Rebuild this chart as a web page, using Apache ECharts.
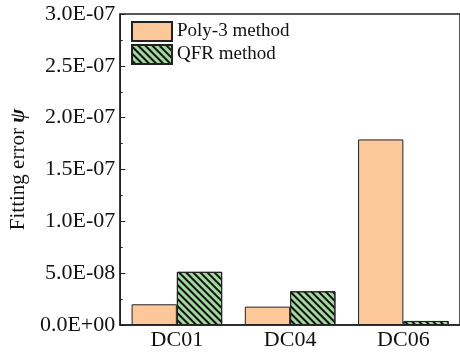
<!DOCTYPE html>
<html>
<head>
<meta charset="utf-8">
<script src="https://cdn.jsdelivr.net/npm/echarts@6/dist/echarts.min.js"></script>
<style>
  html, body { margin: 0; padding: 0; background: #fff; }
  #chart { width: 460px; height: 354px; }
</style>
</head>
<body>
<div id="chart"></div>
<script>
// Fitting error of the two methods for each data case
const categories = ['DC01', 'DC04', 'DC06'];
const poly3Values = [2.0e-8, 1.77e-8, 1.79e-7];
const qfrValues = [5.13e-8, 3.25e-8, 3.9e-9];
const seriesNames = ['Poly-3 method', 'QFR method'];

const SERIF = "'Liberation Serif', 'Times New Roman', serif";

// Scientific label like 1.5E-07 / 0.0E+00
function sciLabel(v) {
  if (Math.abs(v) < 1e-20) return '0.0E+00';
  const s = v.toExponential(1); // e.g. "1.5e-7"
  const parts = s.split('e');
  const exp = parseInt(parts[1], 10);
  const sign = exp < 0 ? '-' : '+';
  const e = String(Math.abs(exp)).padStart(2, '0');
  return parts[0] + 'E' + sign + e;
}

const chart = echarts.init(document.getElementById('chart'));
chart.setOption({
  animation: false,
  textStyle: { fontFamily: SERIF },
  grid: {
    left: 115, right: -2, top: 14, bottom: 29,
    show: true, borderColor: '#222', borderWidth: 1.5,
    backgroundColor: 'transparent'
  },
  legend: {
    left: 131, top: 21, orient: 'vertical', padding: 0,
    icon: 'rect',
    itemWidth: 40, itemHeight: 19, itemGap: 2,
    textStyle: { fontFamily: SERIF, fontSize: 19, color: '#111' },
    data: seriesNames
  },
  xAxis: {
    type: 'category',
    data: categories,
    axisLine: { lineStyle: { color: '#222', width: 1.5 } },
    axisTick: { show: false },
    axisLabel: { fontFamily: SERIF, fontSize: 22, color: '#111', margin: 4 }
  },
  yAxis: {
    type: 'value',
    min: 0, max: 3e-7, interval: 5e-8,
    name: 'Fitting error {psi|ψ}',
    nameLocation: 'middle',
    nameGap: 71,
    nameRotate: 90,
    nameTextStyle: {
      fontFamily: SERIF, fontSize: 21, color: '#111',
      rich: { psi: { fontFamily: SERIF, fontSize: 21, fontWeight: 'bold', fontStyle: 'italic', color: '#111' } }
    },
    axisLine: { show: true, lineStyle: { color: '#222', width: 1.5 } },
    axisTick: { show: true, inside: true, length: 5, lineStyle: { color: '#222', width: 1 } },
    minorTick: { show: true, splitNumber: 2, length: 2.5, lineStyle: { color: '#222', width: 1 } },
    splitLine: { show: false },
    axisLabel: { fontFamily: SERIF, fontSize: 22, color: '#111', margin: 5, formatter: sciLabel }
  },
  series: [
    {
      name: seriesNames[0],
      type: 'bar',
      data: poly3Values,
      barGap: '0%',
      barCategoryGap: '20%',
      itemStyle: { color: '#FCC899', borderColor: '#222', borderWidth: 1 }
    },
    {
      name: seriesNames[1],
      type: 'bar',
      data: qfrValues,
      barGap: '0%',
      barCategoryGap: '20%',
      itemStyle: {
        color: '#A2D89E', borderColor: '#222', borderWidth: 1,
        decal: {
          symbol: 'rect',
          color: '#111',
          dashArrayX: [1, 0],
          dashArrayY: [1.2, 2.8],
          rotation: Math.PI / 4
        }
      }
    }
  ]
});
</script>
</body>
</html>
